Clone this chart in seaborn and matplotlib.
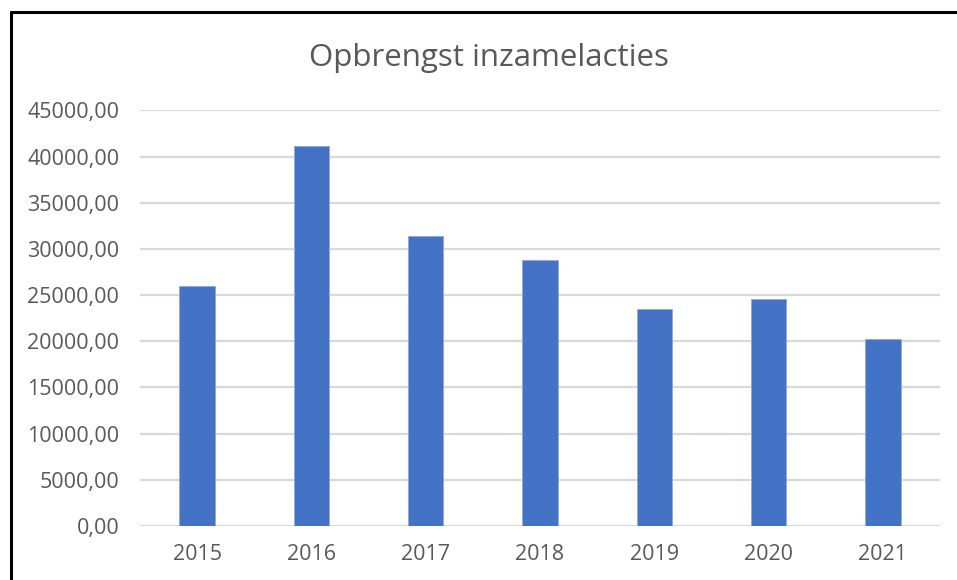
import pandas as pd
import matplotlib.pyplot as plt
import matplotlib.ticker as mticker
from matplotlib.lines import Line2D
import seaborn as sns

# data
years = ['2015', '2016', '2017', '2018', '2019', '2020', '2021']
opbrengst = [25950, 41200, 31450, 28850, 23450, 24550, 20250]

df = pd.DataFrame({'jaar': years, 'opbrengst': opbrengst})

sns.set_style('white')
plt.rcParams['font.family'] = ['Open Sans', 'DejaVu Sans']

text_color = '#595959'

fig = plt.figure(figsize=(9.57, 5.8), dpi=100)
ax = fig.add_axes([0.1463, 0.0931, 0.8359, 0.7164])

sns.barplot(data=df, x='jaar', y='opbrengst', color='#4472C4', width=0.31,
            saturation=1, edgecolor='#8FAADC', linewidth=0.6, ax=ax, zorder=3)

ax.set_ylim(0, 45000)
ax.set_xlim(-0.5, len(years) - 0.5)
ax.yaxis.set_major_locator(mticker.MultipleLocator(5000))
ax.yaxis.set_major_formatter(mticker.FuncFormatter(lambda v, p: f'{v:.2f}'.replace('.', ',')))
ax.grid(axis='y', color='#D9D9D9', linewidth=1.6, zorder=0)
ax.set_axisbelow(True)

for side in ['top', 'right', 'left', 'bottom']:
    ax.spines[side].set_visible(False)

ax.tick_params(axis='y', length=0, pad=15, labelsize=15.5, labelcolor=text_color)
ax.tick_params(axis='x', length=0, pad=13, labelsize=15.5, labelcolor=text_color)
ax.set_xlabel('')
ax.set_ylabel('')

fig.text(0.511, 0.9, 'Opbrengst inzamelacties', ha='center', va='center',
         fontsize=22.5, color=text_color)

# black frame lines (left and top) like the screenshot
fig.add_artist(Line2D([10.5 / 957, 10.5 / 957], [0, 1 - 12 / 580], color='black', linewidth=2.2))
fig.add_artist(Line2D([10.5 / 957, 1], [1 - 12 / 580, 1 - 12 / 580], color='black', linewidth=2.2))

fig.savefig('out.png', dpi=100)
